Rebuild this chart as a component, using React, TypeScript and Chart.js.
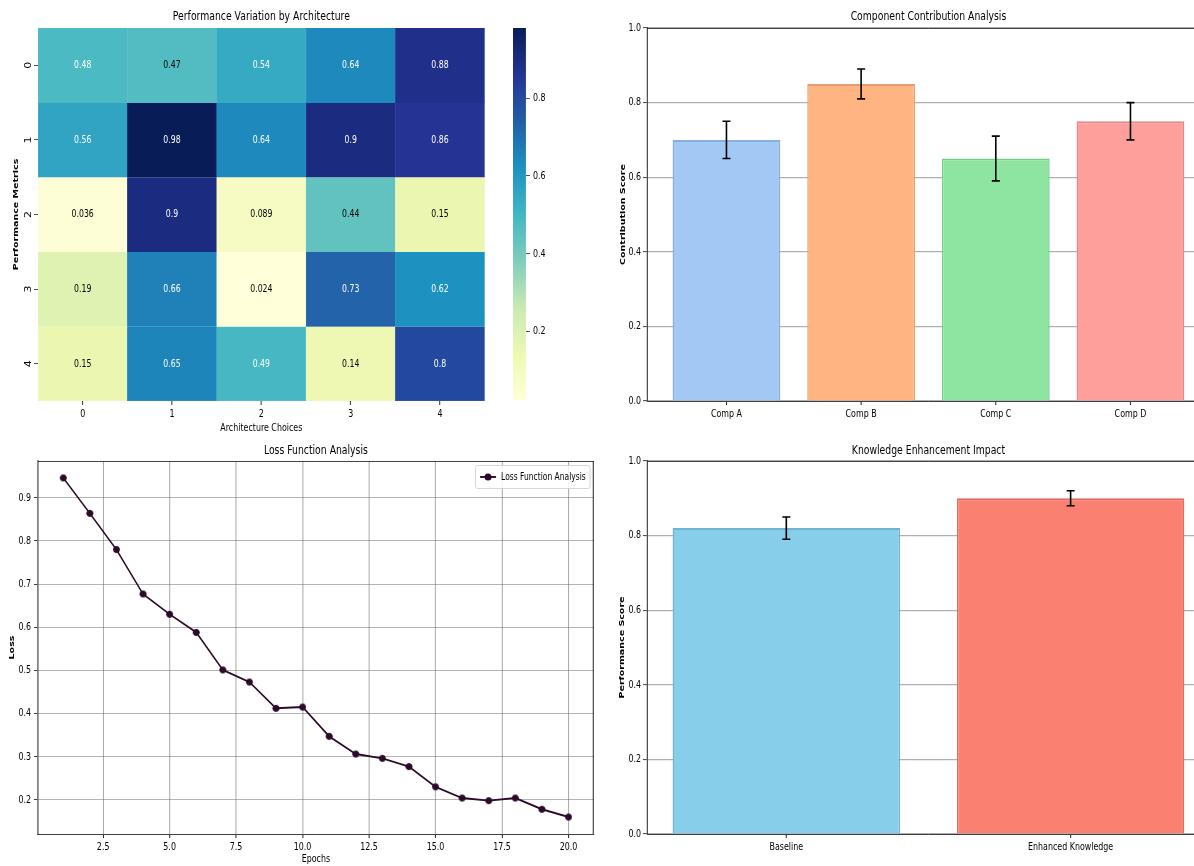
import React, { useEffect, useRef } from 'react';
import { Chart, registerables } from 'chart.js';

Chart.register(...registerables);

// The reference figure is horizontally condensed. Each chart is laid out in a wider
// logical space and drawn through a horizontal squeeze on the canvas context.
const SX = 0.72;
const hx = (v: number) => v / SX;

const FONT = "'DejaVu Sans', 'Liberation Sans', sans-serif";

// ---------- Heatmap data ----------
const heatCols = ['0', '1', '2', '3', '4'];
const heatRows = ['0', '1', '2', '3', '4'];
const heatRow0 = [0.48, 0.47, 0.54, 0.64, 0.88];
const heatRow1 = [0.56, 0.98, 0.64, 0.9, 0.86];
const heatRow2 = [0.036, 0.9, 0.089, 0.44, 0.15];
const heatRow3 = [0.19, 0.66, 0.024, 0.73, 0.62];
const heatRow4 = [0.15, 0.65, 0.49, 0.14, 0.8];
const heatValues = [heatRow0, heatRow1, heatRow2, heatRow3, heatRow4];
const colorbarTicks = [0.2, 0.4, 0.6, 0.8];

// ---------- Component contribution ----------
const compLabels = ['Comp A', 'Comp B', 'Comp C', 'Comp D'];
const compScores = [0.7, 0.85, 0.65, 0.75];
const compErrors = [0.05, 0.04, 0.06, 0.05];
const compColors = ['#a1c9f4', '#ffb482', '#8de5a1', '#ff9f9b'];
const compEdges = ['#86aee0', '#e99c6c', '#73cc88', '#e68784'];

// ---------- Loss ----------
const epochs = [1, 2, 3, 4, 5, 6, 7, 8, 9, 10, 11, 12, 13, 14, 15, 16, 17, 18, 19, 20];
const lossValues = [0.946, 0.864, 0.78, 0.677, 0.63, 0.588, 0.501, 0.473, 0.412, 0.415, 0.347, 0.306, 0.296, 0.277, 0.23, 0.204, 0.198, 0.204, 0.178, 0.16];
const epochTicks = [2.5, 5, 7.5, 10, 12.5, 15, 17.5, 20];
const lossTicks = [0.2, 0.3, 0.4, 0.5, 0.6, 0.7, 0.8, 0.9];

// ---------- Knowledge enhancement ----------
const knowLabels = ['Baseline', 'Enhanced Knowledge'];
const knowScores = [0.82, 0.9];
const knowErrors = [0.03, 0.02];
const knowColors = ['#87ceeb', '#fa8072'];
const knowEdges = ['#6db4d2', '#df6a5d'];

const scoreTicks = [0, 0.2, 0.4, 0.6, 0.8, 1.0];

// ---------- helpers ----------
const YLGNBU = ['#ffffd9', '#edf8b1', '#c7e9b4', '#7fcdbb', '#41b6c4', '#1d91c0', '#225ea8', '#253494', '#081d58'];
const hexToRgb = (h: string) => [parseInt(h.slice(1, 3), 16), parseInt(h.slice(3, 5), 16), parseInt(h.slice(5, 7), 16)];
const cmapRgb = (t: number) => {
  const tt = Math.max(0, Math.min(1, t));
  const p = tt * (YLGNBU.length - 1);
  const i = Math.min(Math.floor(p), YLGNBU.length - 2);
  const f = p - i;
  const a = hexToRgb(YLGNBU[i]);
  const b = hexToRgb(YLGNBU[i + 1]);
  return [0, 1, 2].map((k) => a[k] + (b[k] - a[k]) * f);
};
const rgbStr = (c: number[]) => `rgb(${Math.round(c[0])},${Math.round(c[1])},${Math.round(c[2])})`;
const luminance = (c: number[]) => {
  const lin = c.map((v) => {
    const s = v / 255;
    return s <= 0.03928 ? s / 12.92 : Math.pow((s + 0.055) / 1.055, 2.4);
  });
  return 0.2126 * lin[0] + 0.7152 * lin[1] + 0.0722 * lin[2];
};
const allHeat = heatValues.flat();
const vMin = Math.min(...allHeat);
const vMax = Math.max(...allHeat);
const norm = (v: number) => (v - vMin) / (vMax - vMin);
const fmt2g = (v: number) => String(Number(v.toPrecision(2)));

const barXRange = (n: number) => {
  const span = n - 1 + 0.8;
  return { min: -0.4 - 0.05 * span, max: n - 1 + 0.4 + 0.05 * span };
};

const tickFont = { family: FONT, size: 11 };
const titleFont = { family: FONT, size: 12.9, weight: 'normal' as const };
const axisTitleFontH = { family: FONT, size: 11 };
const axisTitleFontV = { family: FONT, size: 9.5, weight: 'bold' as const };

const VLW = 1 / SX; // logical width giving a 1px vertical line on screen

// Must be the last plugin of each chart: squeezes the whole drawing horizontally.
const squeezePlugin = {
  id: 'squeeze',
  beforeDraw(chart: any) {
    chart.ctx.save();
    chart.ctx.scale(SX, 1);
  },
  afterDraw(chart: any) {
    chart.ctx.restore();
  },
};

const spinePlugin = (sides: string[]) => ({
  id: 'spines',
  afterDraw(chart: any) {
    const { ctx, chartArea: a } = chart;
    ctx.save();
    ctx.strokeStyle = '#222';
    ctx.lineWidth = 1;
    ctx.beginPath();
    if (sides.includes('top')) { ctx.moveTo(a.left, a.top + 0.5); ctx.lineTo(a.right, a.top + 0.5); }
    ctx.stroke();
    ctx.lineWidth = VLW;
    ctx.beginPath();
    if (sides.includes('right')) { ctx.moveTo(a.right - VLW / 2, a.top); ctx.lineTo(a.right - VLW / 2, a.bottom); }
    ctx.stroke();
    ctx.restore();
  },
});

const errorBarPlugin = (values: number[], errors: number[]) => ({
  id: 'errbars',
  afterDraw(chart: any) {
    const { ctx } = chart;
    const xs = chart.scales.x;
    const ys = chart.scales.y;
    const cap = hx(4);
    ctx.save();
    ctx.strokeStyle = '#000';
    values.forEach((v, i) => {
      const x = xs.getPixelForValue(i);
      const y1 = ys.getPixelForValue(v - errors[i]);
      const y2 = ys.getPixelForValue(v + errors[i]);
      ctx.lineWidth = 1.6 / SX;
      ctx.beginPath();
      ctx.moveTo(x, y1); ctx.lineTo(x, y2);
      ctx.stroke();
      ctx.lineWidth = 1.6;
      ctx.beginPath();
      ctx.moveTo(x - cap, y1); ctx.lineTo(x + cap, y1);
      ctx.moveTo(x - cap, y2); ctx.lineTo(x + cap, y2);
      ctx.stroke();
    });
    ctx.restore();
  },
});

function makeDot(color: string, r: number) {
  const c = document.createElement('canvas');
  const w = Math.ceil(2 * hx(r) + 2);
  const h = Math.ceil(2 * r + 2);
  c.width = w;
  c.height = h;
  const g = c.getContext('2d')!;
  g.fillStyle = color;
  g.beginPath();
  g.ellipse(w / 2, h / 2, hx(r), r, 0, 0, Math.PI * 2);
  g.fill();
  return c;
}

function useChart(make: (c: HTMLCanvasElement) => Chart) {
  const ref = useRef<HTMLCanvasElement | null>(null);
  useEffect(() => {
    if (!ref.current) return;
    const ch = make(ref.current);
    return () => ch.destroy();
  }, []);
  return ref;
}

// canvas placed at screen (left, top), occupying screenW pixels of drawing
function ChartCanvas({ make, left, top, screenW, height }: { make: (c: HTMLCanvasElement) => Chart; left: number; top: number; screenW: number; height: number }) {
  const ref = useChart(make);
  return <canvas ref={ref} width={Math.round(hx(screenW))} height={height} style={{ position: 'absolute', left, top }} />;
}

const plotTitle = (text: string, top: number, bottom: number) => ({
  display: true,
  text,
  font: titleFont,
  color: '#000',
  fullSize: false,
  padding: { top, bottom },
});

const makeHeatmap = (c: HTMLCanvasElement) => new Chart(c, {
  type: 'bar',
  data: {
    labels: heatCols,
    datasets: heatValues.map((row, r) => ({
      label: `Metric ${heatRows[r]}`,
      data: row.map(() => 1),
      values: row,
      backgroundColor: row.map((v) => rgbStr(cmapRgb(norm(v)))),
      borderColor: row.map((v) => rgbStr(cmapRgb(norm(v)))),
      borderWidth: 0.5,
      barPercentage: 1,
      categoryPercentage: 1,
      stack: 'heat',
    })) as any,
  },
  options: {
    responsive: false,
    animation: false,
    layout: { padding: { left: 0, right: hx(15), top: 0, bottom: 0 } },
    plugins: {
      legend: { display: false },
      tooltip: { enabled: false },
      title: plotTitle('Performance Variation by Architecture', 9, 3.5),
    },
    scales: {
      x: {
        stacked: true,
        grid: { display: true, drawOnChartArea: false, offset: false, tickLength: 4, color: '#333', lineWidth: VLW },
        border: { display: false },
        ticks: { font: tickFont, color: '#000', padding: 3 },
        title: { display: true, text: 'Architecture Choices', font: axisTitleFontH, color: '#000', padding: { top: 0, bottom: 0 } },
        afterFit: (s: any) => { s.height = 34; },
      },
      y: {
        stacked: true,
        reverse: true,
        min: 0,
        max: heatRows.length,
        afterBuildTicks: (s: any) => { s.ticks = heatRows.map((_, i) => ({ value: i + 0.5 })); },
        grid: { display: true, drawOnChartArea: false, tickLength: hx(4), color: '#333' },
        border: { display: false },
        ticks: { font: tickFont, color: '#000', padding: hx(3), minRotation: 90, maxRotation: 90, crossAlign: 'center', callback: (_v: any, i: number) => heatRows[i] },
        title: { display: true, text: 'Performance Metrics', font: axisTitleFontV, color: '#000', padding: { top: hx(16.4) - 5.7, bottom: 0 } },
        afterFit: (s: any) => { s.width = hx(38); },
      },
    },
  },
  plugins: [{
    id: 'cellLabels',
    afterDatasetsDraw(chart: any) {
      const { ctx } = chart;
      ctx.save();
      ctx.font = `10.8px ${FONT}`;
      ctx.textAlign = 'center';
      ctx.textBaseline = 'middle';
      chart.data.datasets.forEach((ds: any, di: number) => {
        const meta = chart.getDatasetMeta(di);
        meta.data.forEach((el: any, ci: number) => {
          const v = ds.values[ci];
          const lum = luminance(cmapRgb(norm(v)));
          ctx.fillStyle = lum > 0.408 ? '#000' : '#fff';
          ctx.fillText(fmt2g(v), el.x, (el.y + el.base) / 2);
        });
      });
      ctx.restore();
    },
  }, squeezePlugin],
} as any);

const makeColorbar = (c: HTMLCanvasElement) => new Chart(c, {
  type: 'bar',
  data: { labels: [], datasets: [{ label: 'colorbar', data: [] }] },
  options: {
    responsive: false,
    animation: false,
    layout: { padding: { left: hx(23), right: 0, top: 28, bottom: 35 } },
    plugins: { legend: { display: false }, tooltip: { enabled: false } },
    scales: {
      x: { display: false },
      y: {
        position: 'right',
        min: vMin,
        max: vMax,
        afterBuildTicks: (s: any) => { s.ticks = colorbarTicks.map((v) => ({ value: v })); },
        grid: { display: true, drawOnChartArea: false, tickLength: hx(4), color: '#333' },
        border: { display: false },
        ticks: { font: tickFont, color: '#000', padding: hx(3), callback: (v: any) => Number(v).toFixed(1) },
        afterFit: (s: any) => { s.width = hx(44); },
      },
    },
  },
  plugins: [{
    id: 'gradient',
    beforeDatasetsDraw(chart: any) {
      const { ctx, chartArea: a } = chart;
      const g = ctx.createLinearGradient(0, a.bottom, 0, a.top);
      YLGNBU.forEach((col, i) => g.addColorStop(i / (YLGNBU.length - 1), col));
      ctx.save();
      ctx.fillStyle = g;
      ctx.fillRect(a.left, a.top, a.right - a.left, a.bottom - a.top);
      ctx.restore();
    },
  }, squeezePlugin],
} as any);

function makeBarChart(canvas: HTMLCanvasElement, labels: string[], values: number[], errors: number[], colors: string[], edges: string[], title: string, yTitle: string, titleTop: number, titleBottom: number, axisH: number, yTitleCenter: number) {
  const range = barXRange(labels.length);
  return new Chart(canvas, {
    type: 'bar',
    data: {
      datasets: [{
        label: title,
        data: values.map((v, i) => ({ x: i, y: v })),
        backgroundColor: colors,
        borderColor: edges,
        borderWidth: 2,
        barPercentage: 0.8,
        categoryPercentage: 1,
      }],
    },
    options: {
      responsive: false,
      animation: false,
      layout: { padding: { left: 0, right: hx(10), top: 0, bottom: 0 } },
      plugins: {
        legend: { display: false },
        tooltip: { enabled: false },
        title: plotTitle(title, titleTop, titleBottom),
      },
      scales: {
        x: {
          type: 'linear',
          offset: false,
          min: range.min,
          max: range.max,
          afterBuildTicks: (s: any) => { s.ticks = labels.map((_, i) => ({ value: i })); },
          grid: { display: true, offset: false, drawOnChartArea: false, tickLength: 4, color: '#222', lineWidth: VLW },
          border: { display: true, color: '#222', width: 1 },
          ticks: { font: tickFont, color: '#000', padding: 3, maxRotation: 0, autoSkip: false, callback: (_v: any, i: number) => labels[i] },
          afterFit: (s: any) => { s.height = axisH; },
        },
        y: {
          min: 0,
          max: 1,
          z: 1,
          afterBuildTicks: (s: any) => { s.ticks = scoreTicks.map((v) => ({ value: v })); },
          grid: { display: true, color: 'rgba(110,110,110,0.55)', lineWidth: 1.2, tickLength: hx(4), tickColor: '#222', tickWidth: 1 },
          border: { display: true, color: '#222', width: VLW },
          ticks: { font: tickFont, color: '#000', padding: hx(2), callback: (v: any) => Number(v).toFixed(1) },
          title: { display: true, text: yTitle, font: axisTitleFontV, color: '#000', padding: { top: hx(yTitleCenter) - 5.7, bottom: 0 } },
          afterFit: (s: any) => { s.width = hx(47); },
        },
      },
    },
    plugins: [errorBarPlugin(values, errors), spinePlugin(['top']), squeezePlugin],
  } as any);
}

const makeComponent = (c: HTMLCanvasElement) => makeBarChart(c, compLabels, compScores, compErrors, compColors, compEdges, 'Component Contribution Analysis', 'Contribution Score', 9, 3.5, 34, 23);
const makeKnowledge = (c: HTMLCanvasElement) => makeBarChart(c, knowLabels, knowScores, knowErrors, knowColors, knowEdges, 'Knowledge Enhancement Impact', 'Performance Score', 7.5, 3, 32, 22.5);

const makeLoss = (c: HTMLCanvasElement) => {
  const xPad = (Math.max(...epochs) - Math.min(...epochs)) * 0.05;
  const yPad = (Math.max(...lossValues) - Math.min(...lossValues)) * 0.05;
  const lineColor = '#2b0b28';
  return new Chart(c, {
    type: 'line',
    data: {
      datasets: [{
        label: 'Loss Function Analysis',
        data: epochs.map((e, i) => ({ x: e, y: lossValues[i] })),
        borderColor: lineColor,
        backgroundColor: lineColor,
        pointStyle: makeDot(lineColor, 3.5),
        borderWidth: 1.9,
        tension: 0,
      }],
    },
    options: {
      responsive: false,
      animation: false,
      layout: { padding: { left: 0, right: hx(6), top: 0, bottom: 0 } },
      plugins: {
        legend: { display: false },
        tooltip: { enabled: false },
        title: plotTitle('Loss Function Analysis', 7.5, 3),
      },
      scales: {
        x: {
          type: 'linear',
          min: Math.min(...epochs) - xPad,
          max: Math.max(...epochs) + xPad,
          afterBuildTicks: (s: any) => { s.ticks = epochTicks.map((v) => ({ value: v })); },
          grid: { display: true, color: 'rgba(110,110,110,0.6)', lineWidth: VLW, tickLength: 4, tickColor: '#222' },
          border: { display: true, color: '#222', width: 1 },
          ticks: { font: tickFont, color: '#000', padding: 3, maxRotation: 0, autoSkip: false, callback: (v: any) => Number(v).toFixed(1) },
          title: { display: true, text: 'Epochs', font: axisTitleFontH, color: '#000', padding: { top: 0, bottom: 0 } },
          afterFit: (s: any) => { s.height = 32; },
        },
        y: {
          min: Math.min(...lossValues) - yPad,
          max: Math.max(...lossValues) + yPad,
          afterBuildTicks: (s: any) => { s.ticks = lossTicks.map((v) => ({ value: v })); },
          grid: { display: true, color: 'rgba(110,110,110,0.6)', lineWidth: 1, tickLength: hx(4), tickColor: '#222' },
          border: { display: true, color: '#222', width: VLW },
          ticks: { font: tickFont, color: '#000', padding: hx(3), callback: (v: any) => Number(v).toFixed(1) },
          title: { display: true, text: 'Loss', font: axisTitleFontV, color: '#000', padding: { top: hx(12.5) - 5.7, bottom: 0 } },
          afterFit: (s: any) => { s.width = hx(38); },
        },
      },
    },
    plugins: [spinePlugin(['top', 'right']), {
      id: 'legendBox',
      afterDraw(chart: any) {
        const { ctx, chartArea: a } = chart;
        const label = chart.data.datasets[0].label;
        ctx.save();
        ctx.font = `10.5px ${FONT}`;
        const tw = ctx.measureText(label).width;
        const h = 23;
        const w = tw + hx(30);
        const x0 = a.right - hx(4) - w;
        const y0 = a.top + 4;
        ctx.fillStyle = 'rgba(255,255,255,0.85)';
        ctx.strokeStyle = '#cfcfcf';
        ctx.lineWidth = 1;
        ctx.beginPath();
        (ctx as any).roundRect(x0 + 0.5, y0 + 0.5, w, h, 3);
        ctx.fill();
        ctx.stroke();
        const cy = y0 + h / 2 + 0.5;
        ctx.strokeStyle = lineColor;
        ctx.lineWidth = 1.9;
        ctx.beginPath();
        ctx.moveTo(x0 + hx(5), cy);
        ctx.lineTo(x0 + hx(21), cy);
        ctx.stroke();
        ctx.fillStyle = lineColor;
        ctx.beginPath();
        ctx.ellipse(x0 + hx(13), cy, hx(3.5), 3.5, 0, 0, Math.PI * 2);
        ctx.fill();
        ctx.fillStyle = '#000';
        ctx.textBaseline = 'middle';
        ctx.textAlign = 'left';
        ctx.fillText(label, x0 + hx(26), cy);
        ctx.restore();
      },
    }, squeezePlugin],
  } as any);
};

export default function App() {
  return (
    <div style={{ position: 'fixed', left: 0, top: 0, width: 1194, height: 866, overflow: 'hidden', background: '#fff' }}>
      <ChartCanvas make={makeHeatmap} left={0} top={0} screenW={500} height={435} />
      <ChartCanvas make={makeColorbar} left={490} top={0} screenW={80} height={435} />
      <ChartCanvas make={makeComponent} left={600} top={0} screenW={620} height={435} />
      <ChartCanvas make={makeLoss} left={0} top={435} screenW={600} height={431} />
      <ChartCanvas make={makeKnowledge} left={600} top={435} screenW={620} height={431} />
    </div>
  );
}
